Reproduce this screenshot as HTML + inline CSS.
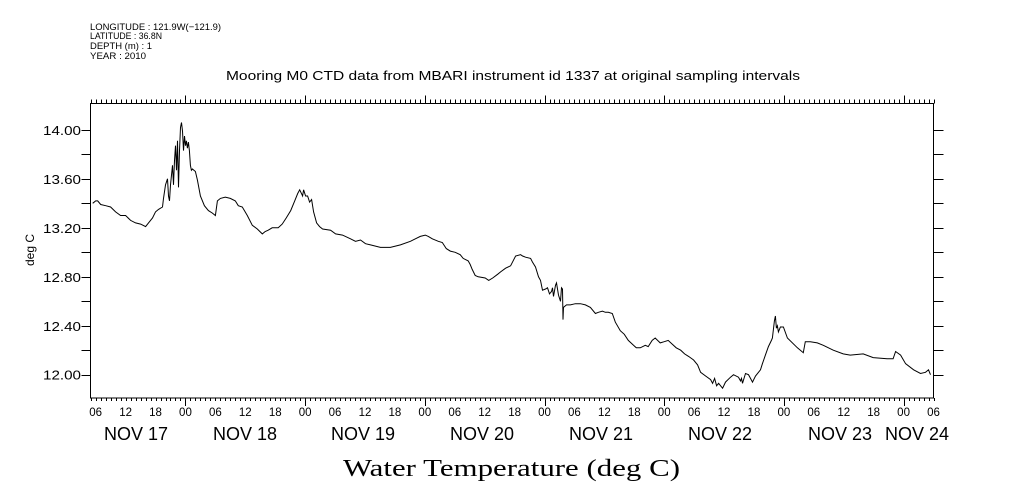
<!DOCTYPE html>
<html><head><meta charset="utf-8"><style>
html,body{margin:0;padding:0;background:#fff;}
svg{display:block;}
text{font-family:"Liberation Sans",sans-serif;fill:#000;}
</style></head><body>
<svg id="chart" width="1009" height="504" viewBox="0 0 1009 504" xmlns="http://www.w3.org/2000/svg">
<g font-size="9.5">
<text x="90" y="30" textLength="131" lengthAdjust="spacingAndGlyphs">LONGITUDE : 121.9W(−121.9)</text>
<text x="90" y="39" textLength="72" lengthAdjust="spacingAndGlyphs">LATITUDE : 36.8N</text>
<text x="90" y="49" textLength="62" lengthAdjust="spacingAndGlyphs">DEPTH (m) : 1</text>
<text x="90" y="59" textLength="56" lengthAdjust="spacingAndGlyphs">YEAR : 2010</text>
</g>
<text x="226" y="80" textLength="574" lengthAdjust="spacingAndGlyphs" font-size="13">Mooring M0 CTD data from MBARI instrument id 1337 at original sampling intervals</text>
<text transform="translate(34,250) rotate(-90)" text-anchor="middle" font-size="12">deg C</text>
<text x="343" y="476" textLength="337" lengthAdjust="spacingAndGlyphs" font-size="24" style="font-family:'Liberation Serif',serif">Water Temperature (deg C)</text>
<rect x="90.5" y="103.5" width="843" height="294.5" fill="none" stroke="#000" stroke-width="1"/>
<g id="axes"></g>
<path id="series" fill="none" stroke="#000" stroke-width="1"/>
</svg>
<script>
const hours = [5.4,6.0,6.4,7.0,8.0,9.0,10.0,11.0,12.0,13.0,14.0,15.0,16.0,16.6,17.4,18.0,18.6,19.4,19.6,20.0,20.4,20.6,20.8,21.0,21.2,21.4,21.6,21.8,22.0,22.2,22.4,22.6,22.8,23.0,23.2,23.4,23.6,23.8,24.0,24.2,24.4,24.6,24.8,25.0,25.2,25.4,26.0,26.4,27.0,27.8,28.6,29.4,30.0,30.4,31.0,32.0,33.0,34.0,34.6,35.4,36.4,37.4,38.4,39.4,40.0,40.6,41.4,42.6,43.4,44.2,45.1,45.9,46.5,46.9,47.5,47.7,48.1,48.5,48.9,49.3,49.7,50.3,50.9,
51.5,53.1,54.1,55.5,57.1,58.1,59.1,60.1,61.1,63.1,65.1,67.1,69.1,70.1,71.1,72.1,72.7,73.5,74.7,75.5,76.3,77.1,78.1,79.1,79.7,80.7,81.1,81.5,82.1,82.7,84.1,84.8,85.6,86.6,87.2,88.2,89.2,90.2,91.2,91.6,92.2,93.2,93.6,94.2,94.8,95.2,95.6,96.2,96.6,97.0,97.4,97.6,97.8,98.2,98.4,98.8,99.2,99.4,99.6,99.7,99.8,100.4,101.2,102.2,103.2,104.2,105.2,106.2,106.8,107.6,108.2,108.8,109.6,110.2,111.2,112.0,112.8,113.6,114.4,115.2,116.2,116.8,117.6,118.2,119.2,120.0,120.8,121.6,122.4,123.3,124.1,124.9,125.9,126.7,127.3,128.3,129.3,129.7,130.1,130.5,130.9,131.3,131.7,132.3,133.3,133.9,134.9,135.3,135.5,135.7,136.3,136.9,137.3,137.7,138.3,139.3,139.7,140.3,140.9,141.5,141.7,142.1,142.3,142.5,142.7,142.9,143.3,143.9,144.7,146.7,147.9,148.3,149.3,150.7,151.9,153.9,155.9,157.3,159.9,161.9,164.7,165.9,166.4,167.4,168.4,170.0,171.4,172.4,173.0,173.4];
const temps = [13.40,13.42,13.42,13.39,13.38,13.37,13.33,13.30,13.30,13.26,13.24,13.23,13.21,13.24,13.28,13.33,13.35,13.37,13.44,13.55,13.60,13.46,13.42,13.55,13.63,13.71,13.55,13.75,13.87,13.67,13.91,13.53,13.83,14.02,14.06,13.99,13.83,13.95,13.87,13.91,13.85,13.90,13.83,13.71,13.67,13.68,13.66,13.59,13.46,13.38,13.34,13.32,13.30,13.42,13.44,13.45,13.44,13.42,13.38,13.37,13.30,13.22,13.19,13.15,13.17,13.18,13.20,13.20,13.23,13.28,13.34,13.42,13.48,13.51,13.46,13.51,13.46,13.46,13.41,13.43,13.33,13.24,13.21,
13.19,13.18,13.15,13.14,13.11,13.09,13.10,13.07,13.06,13.04,13.04,13.06,13.09,13.11,13.13,13.14,13.13,13.11,13.09,13.08,13.03,13.01,13.00,12.98,12.95,12.93,12.90,12.86,12.81,12.80,12.79,12.77,12.79,12.82,12.84,12.87,12.89,12.97,12.98,12.97,12.96,12.95,12.92,12.88,12.80,12.77,12.69,12.70,12.71,12.66,12.68,12.71,12.64,12.73,12.75,12.65,12.60,12.71,12.70,12.45,12.55,12.57,12.57,12.58,12.58,12.57,12.55,12.50,12.51,12.52,12.51,12.51,12.50,12.43,12.36,12.33,12.28,12.25,12.22,12.22,12.24,12.23,12.28,12.30,12.26,12.27,12.28,12.25,12.22,12.20,12.17,12.15,12.12,12.08,12.02,11.99,11.96,11.93,11.97,11.91,11.93,11.91,11.89,11.94,11.98,12.00,11.98,11.95,11.97,11.93,12.01,12.00,11.97,11.94,11.99,12.04,12.09,12.16,12.23,12.28,12.30,12.44,12.48,12.38,12.40,12.35,12.39,12.39,12.30,12.22,12.18,12.27,12.27,12.26,12.24,12.20,12.17,12.16,12.17,12.14,12.13,12.13,12.19,12.16,12.09,12.04,12.01,12.02,12.04,12.00];
const yTickLabels = ["12.00","12.40","12.80","13.20","13.60","14.00"];
const hourLabels = ["00","06","12","18"];
const dayLabels = ["NOV 17","NOV 18","NOV 19","NOV 20","NOV 21","NOV 22","NOV 23","NOV 24"];

const NS="http://www.w3.org/2000/svg";
const L=90.5,R=933.5,T=103.5,B=398;
const H0=4.96,H1=174;
const V0=11.81,V1=14.215;
function xs(h){return L+(h-H0)/(H1-H0)*(R-L);}
function ys(v){return B-(v-V0)/(V1-V0)*(B-T);}
const ax=document.getElementById('axes');
function line(x1,y1,x2,y2,name){
  const l=document.createElementNS(NS,'line');
  l.setAttribute('x1',x1);l.setAttribute('y1',y1);l.setAttribute('x2',x2);l.setAttribute('y2',y2);
  l.setAttribute('stroke','#000');l.setAttribute('stroke-width','1');
  
  
  ax.appendChild(l);
}
function txt(x,y,s,size,anchor,name){
  const t=document.createElementNS(NS,'text');
  t.setAttribute('x',x);t.setAttribute('y',y);t.setAttribute('font-size',size);
  t.setAttribute('text-anchor',anchor);t.textContent=s;
  
  
  ax.appendChild(t);
  return t;
}
for(let h=Math.ceil(H0);h<=H1;h++){
  const x=Math.round(xs(h))+0.5;
  const major=h%24===0;
  line(x,B,x,B+(major?8:3),'x-tick-bottom');
  line(x,T,x,T-(major?8:4),'x-tick-top');
}
for(let h=6;h<=H1;h+=6){
  txt(xs(h),416,hourLabels[(h/6)%4],11.5,'middle','x-tick-label');
}
const dayCenters=[136,245,363,482,601,720,840,917];
dayLabels.forEach((d,i)=>{
  const t=txt(dayCenters[i]-32,440,d,18,'start','day-label');
  t.setAttribute('textLength','64');
  t.setAttribute('lengthAdjust','spacingAndGlyphs');
});
for(let k=0;k<=10;k++){
  const v=12+k*0.2;
  const y=Math.round(ys(v))+0.5;
  line(L-9,y,L,y,'y-tick-left');
  line(R,y,R+10,y,'y-tick-right');
}
yTickLabels.forEach(s=>{
  const t=txt(43,ys(parseFloat(s))+5,s,12.5,'start','y-tick-label');
  t.setAttribute('textLength','38');
  t.setAttribute('lengthAdjust','spacingAndGlyphs');
});
let d='';
for(let i=0;i<hours.length;i++){d+=(i?'L':'M')+xs(hours[i]).toFixed(1)+' '+ys(temps[i]).toFixed(1);}
document.getElementById('series').setAttribute('d',d);
</script>
</body></html>
